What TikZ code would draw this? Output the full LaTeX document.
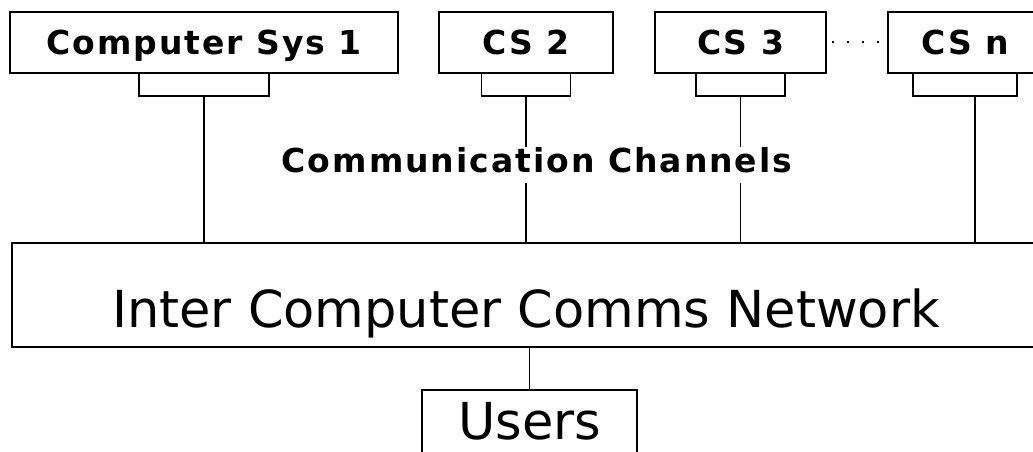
\documentclass[tikz,border=0pt]{standalone}
\usepackage{fontspec}
\usepackage{tikz}
\usetikzlibrary{positioning}
\setmainfont{DejaVu Sans}
\newfontfamily\sysfont[LetterSpace=6]{DejaVu Sans Bold}
\newfontfamily\netfont{DejaVu Sans}

\begin{document}
\begin{tikzpicture}[x=1pt, y=-1pt, >=stealth]
    \tikzstyle{sysbox} = [rectangle, draw, line width=1.6pt, outer sep=0pt, inner ysep=0pt, text height=43pt, text depth=18pt, font=\sysfont\fontsize{33}{33}\selectfont]
    \tikzstyle{port} = [rectangle, draw, line width=1.6pt, outer sep=0pt, minimum height=23pt, inner sep=0pt]
    \tikzstyle{netbox} = [rectangle, draw, line width=1.6pt, outer sep=0pt, inner ysep=0pt, font=\netfont\fontsize{51}{51}\selectfont]
    \tikzstyle{link} = [draw, line width=1.2pt]

    \useasboundingbox (0,0) rectangle (1033,452);
    \clip (0,0) rectangle (1033,452);

    % computer systems along the top
    \node [sysbox, minimum width=388pt] (cs1) at (204,42.5) {Computer Sys 1};
    \node [sysbox, minimum width=174pt] (cs2) at (526,42.5) {CS 2};
    \node [sysbox, minimum width=171pt] (cs3) at (740.5,42.5) {CS 3};
    \node [sysbox, minimum width=154pt] (csn) at (965,42.5) {CS n};

    \node [port, minimum width=130pt, below=0pt of cs1] (p1) {};
    \node [port, minimum width=89pt, below=0pt of cs2] (p2) {};
    \node [port, minimum width=89pt, below=0pt of cs3] (p3) {};
    \node [port, minimum width=104pt, below=0pt of csn] (pn) {};

    \path [draw, line width=2pt, dash pattern=on 2pt off 13pt] (cs3.east) ++(6,0) -- (csn.west);

    % network and users
    \node [netbox, minimum width=1028pt, text height=84pt, text depth=20pt] (net) at (526,295) {Inter Computer Comms Network};
    \node [netbox, minimum width=215pt, text height=49pt, text depth=14pt] (users) at (529.5,421.5) {Users};

    \path [link] (p1) -- (p1 |- net.north);
    \path [link] (p2) -- (p2 |- net.north);
    \path [link] (p3) -- (p3 |- net.north);
    \path [link] ([xshift=10pt]pn.south) -- ([xshift=10pt]pn.south |- net.north);
    \path [link] (net.south -| users) -- (users);

    \node [fill=white, inner xsep=4pt, inner ysep=0pt, text height=25pt, text depth=11pt, font=\sysfont\fontsize{33}{33}\selectfont] (chan) at (537,165) {Communication Channels};
\end{tikzpicture}
\end{document}
